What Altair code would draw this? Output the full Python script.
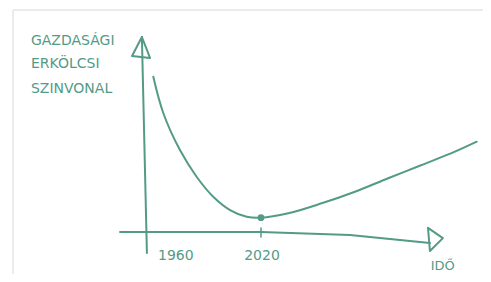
import altair as alt
import pandas as pd

# Sketch curve: "economic/moral standard" over time (abstract levels)
curve_year = [1964.3, 1969.5, 1978.1, 1986.7, 1995.3, 2004.0, 2012.6, 2020.0,
              2034.1, 2051.4, 2068.6, 2085.8, 2103.1, 2120.3, 2131.6]
curve_level = [79.7, 61.1, 42.3, 28.7, 18.5, 11.7, 8.3, 7.8,
               10.05, 15.15, 21.07, 27.91, 34.69, 41.48, 46.58]

min_year = [2020]
min_level = [7.8]

tick_labels = ["1960", "2020"]
tick_years = [1960, 2020]

y_title_lines = ["GAZDASÁGI", "ERKÖLCSI", "SZINVONAL"]
x_title = "IDŐ"

# hand-drawn axes (in data units)
yaxis_year = [1958.4, 1961.0]
yaxis_level = [100, -10.2]
yarrow_year = [1958.4, 1953.3, 1962.6, 1958.4]
yarrow_level = [100, 90.3, 89.3, 100]
xaxis_year = [1947.1, 2020, 2066, 2107.4]
xaxis_level = [0.5, 0.5, -1.0, -5.1]
xarrow_year = [2106.4, 2114.1, 2107.4, 2106.4]
xarrow_level = [2.6, -2.6, -9.2, 2.6]

COLOR = "#539a87"
FONT = "DejaVu Sans"

xs = alt.Scale(domain=[1889.14, 2134.85], nice=False, zero=False)
ys = alt.Scale(domain=[-20.92, 114.80], nice=False, zero=False)

X = alt.X("year:Q", scale=xs, axis=None)
Y = alt.Y("level:Q", scale=ys, axis=None)

def line_df(xv, yv):
    return pd.DataFrame({"year": xv, "level": yv, "o": list(range(len(xv)))})

def line_layer(df, width=2.0, interp="linear"):
    return alt.Chart(df).mark_line(color=COLOR, strokeWidth=width, interpolate=interp,
                                   strokeCap="round", strokeJoin="round").encode(
        x=X, y=Y, order="o:Q")

curve = line_layer(line_df(curve_year, curve_level), 2.0, "catmull-rom")
yaxis = line_layer(line_df(yaxis_year, yaxis_level), 2.0)
yarrow = line_layer(line_df(yarrow_year, yarrow_level), 2.0)
xaxis = line_layer(line_df(xaxis_year, xaxis_level), 2.0)
xarrow = line_layer(line_df(xarrow_year, xarrow_level), 2.0)

tick_df = pd.DataFrame({"year": [2020, 2020], "level": [2.6, -2.0], "o": [0, 1]})
tick = line_layer(tick_df, 1.5)

dot = alt.Chart(pd.DataFrame({"year": min_year, "level": min_level})).mark_point(
    filled=True, color=COLOR, size=45, opacity=1
).encode(x=X, y=Y)

lab_df = pd.DataFrame({"label": tick_labels, "year": tick_years, "level": [-11.5, -11.5]})
lab1960 = alt.Chart(lab_df.iloc[[0]]).mark_text(color=COLOR, font=FONT, fontSize=14, dx=13, align="left").encode(
    x=X, y=Y, text="label:N")
lab2020 = alt.Chart(lab_df.iloc[[1]]).mark_text(color=COLOR, font=FONT, fontSize=14, dx=1).encode(
    x=X, y=Y, text="label:N")

ytitle_df = pd.DataFrame({"label": y_title_lines, "year": [1901.0] * 3, "level": [98, 86.2, 73.5]})
ytitle = alt.Chart(ytitle_df).mark_text(color=COLOR, font=FONT, fontSize=14, align="left").encode(
    x=X, y=Y, text="label:N")

xtitle = alt.Chart(pd.DataFrame({"label": [x_title], "year": [2114], "level": [-17.0]})).mark_text(
    color=COLOR, font=FONT, fontSize=13).encode(x=X, y=Y, text="label:N")

frame_top = alt.Chart().mark_rule(color="#e4e4e4", strokeWidth=1.5).encode(
    x=alt.value(5), x2=alt.value(475), y=alt.value(2))
frame_left = alt.Chart().mark_rule(color="#e4e4e4", strokeWidth=1.5).encode(
    x=alt.value(5), y=alt.value(2), y2=alt.value(266))

chart = alt.layer(
    frame_top, frame_left, yaxis, yarrow, xaxis, xarrow, tick, curve, dot,
    lab1960, lab2020, ytitle, xtitle
).properties(
    width=475, height=266, padding=0, autosize=alt.AutoSizeParams(type="none"),
    background="white"
).configure_view(stroke=None)

chart.save("out.html", embed_options={"renderer": "svg", "actions": False})
